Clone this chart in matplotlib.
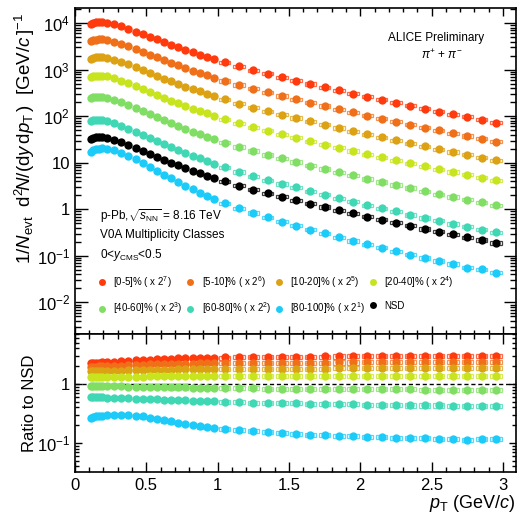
import numpy as np
import matplotlib
matplotlib.use("Agg")
import matplotlib.pyplot as plt
from matplotlib.lines import Line2D
from matplotlib.ticker import LogLocator, FuncFormatter, MultipleLocator, NullFormatter

plt.rcParams['font.family'] = ['Liberation Sans', 'DejaVu Sans']
plt.rcParams['mathtext.fontset'] = 'custom'
plt.rcParams['mathtext.rm'] = 'Liberation Sans'
plt.rcParams['mathtext.it'] = 'Liberation Sans:italic'
plt.rcParams['mathtext.bf'] = 'Liberation Sans:bold'

# pT bin centres and widths (GeV/c)
pt = [0.11, 0.13, 0.15, 0.17, 0.19,
      0.225, 0.275, 0.325, 0.375, 0.425, 0.475, 0.525, 0.575, 0.625, 0.675,
      0.725, 0.775, 0.825, 0.875, 0.925, 0.975,
      1.05, 1.15, 1.25, 1.35, 1.45, 1.55, 1.65, 1.75, 1.85, 1.95,
      2.05, 2.15, 2.25, 2.35, 2.45, 2.55, 2.65, 2.75, 2.85, 2.95]
pt_width = [0.02] * 5 + [0.05] * 16 + [0.1] * 20

# NSD spectrum
nsd = [33.0, 34.5, 35.2, 35.3, 35.1,
       33.9, 30.9, 27.4, 23.8, 20.6, 17.8, 15.3, 13.3, 11.5, 10.0, 8.73, 7.66, 6.73, 5.94, 5.27, 4.70,
       3.98, 3.24, 2.66, 2.21, 1.86, 1.57, 1.32, 1.12, 0.955, 0.813,
       0.692, 0.596, 0.513, 0.442, 0.380, 0.331, 0.288, 0.251, 0.219, 0.190]

# ratio of each multiplicity class to NSD
ratio_0_5 = [2.28, 2.28, 2.29, 2.30, 2.31,
             2.33, 2.37, 2.41, 2.45, 2.49, 2.53, 2.57, 2.60, 2.63, 2.66, 2.69, 2.71, 2.73, 2.75, 2.77, 2.78,
             2.80, 2.83, 2.85, 2.87, 2.88, 2.89, 2.90, 2.91, 2.92, 2.93,
             2.94, 2.95, 2.95, 2.96, 2.98, 2.97, 2.99, 3.02, 2.99, 2.98]
ratio_5_10 = [1.95, 1.95, 1.96, 1.97, 1.98,
              1.99, 2.02, 2.04, 2.07, 2.09, 2.11, 2.13, 2.15, 2.16, 2.18, 2.19, 2.20, 2.21, 2.22, 2.23, 2.24,
              2.25, 2.26, 2.27, 2.28, 2.29, 2.29, 2.30, 2.30, 2.31, 2.31,
              2.32, 2.32, 2.33, 2.33, 2.33, 2.34, 2.34, 2.35, 2.34, 2.34]
ratio_10_20 = [1.62, 1.62, 1.63, 1.63, 1.64,
               1.65, 1.66, 1.68, 1.69, 1.70, 1.71, 1.72, 1.73, 1.74, 1.75, 1.76, 1.76, 1.77, 1.78, 1.78, 1.79,
               1.79, 1.80, 1.80, 1.81, 1.81, 1.82, 1.82, 1.82, 1.83, 1.83,
               1.83, 1.83, 1.84, 1.84, 1.84, 1.84, 1.85, 1.85, 1.84, 1.84]
ratio_20_40 = [1.30, 1.30, 1.30, 1.30, 1.31,
               1.31, 1.32, 1.32, 1.33, 1.33, 1.33, 1.34, 1.34, 1.34, 1.35, 1.35, 1.35, 1.35, 1.36, 1.36, 1.36,
               1.36, 1.36, 1.36, 1.37, 1.37, 1.37, 1.37, 1.37, 1.37, 1.37,
               1.37, 1.37, 1.37, 1.37, 1.38, 1.37, 1.37, 1.38, 1.37, 1.37]
ratio_40_60 = [0.93, 0.93, 0.93, 0.92, 0.92,
               0.92, 0.91, 0.91, 0.90, 0.90, 0.89, 0.89, 0.88, 0.88, 0.87, 0.87, 0.87, 0.86, 0.86, 0.85, 0.85,
               0.85, 0.84, 0.84, 0.83, 0.83, 0.83, 0.82, 0.82, 0.82, 0.82,
               0.81, 0.81, 0.81, 0.81, 0.80, 0.80, 0.80, 0.80, 0.80, 0.80]
ratio_60_80 = [0.59, 0.59, 0.59, 0.59, 0.59,
               0.58, 0.58, 0.57, 0.57, 0.56, 0.56, 0.55, 0.55, 0.54, 0.54, 0.53, 0.53, 0.52, 0.52, 0.51, 0.51,
               0.50, 0.49, 0.48, 0.48, 0.47, 0.47, 0.46, 0.46, 0.45, 0.45,
               0.44, 0.44, 0.44, 0.43, 0.43, 0.43, 0.42, 0.42, 0.42, 0.42]
ratio_80_100 = [0.26, 0.27, 0.28, 0.285, 0.29,
                0.295, 0.30, 0.30, 0.295, 0.29, 0.28, 0.26, 0.25, 0.24, 0.23, 0.22, 0.21, 0.20, 0.19, 0.185, 0.178,
                0.170, 0.163, 0.157, 0.151, 0.146, 0.142, 0.138, 0.135, 0.132, 0.129,
                0.127, 0.125, 0.123, 0.121, 0.119, 0.118, 0.116, 0.112, 0.117, 0.115]

classes = ['[0-5]%', '[5-10]%', '[10-20]%', '[20-40]%', '[40-60]%', '[60-80]%', '[80-100]%']
scale_pow = [7, 6, 5, 4, 3, 2, 1]
ratios = [ratio_0_5, ratio_5_10, ratio_10_20, ratio_20_40, ratio_40_60, ratio_60_80, ratio_80_100]
colors = ['#ff3a0c', '#f0701a', '#dca214', '#c8e41e', '#80de64', '#40d8b4', '#1ccbf8']

sys_rel = 0.08

pt = np.array(pt)
pt_width = np.array(pt_width)
nsd = np.array(nsd)

fig = plt.figure(figsize=(5.2, 5.16), dpi=100)
ax1 = fig.add_axes([0.144, 0.3527, 0.848, 0.6318])
ax2 = fig.add_axes([0.144, 0.0853, 0.848, 0.2674], sharex=ax1)


def draw_points(ax, y, color, zorder):
    ax.bar(pt, 2 * sys_rel * y, width=0.8 * pt_width, bottom=y * (1 - sys_rel),
           fill=False, edgecolor=color, linewidth=0.9, alpha=0.75, zorder=zorder)
    ax.plot(pt, y, 'o', color=color, ms=6, mec='none', zorder=zorder + 0.5)


handles = []
for i, (name, p, r, c) in enumerate(zip(classes, scale_pow, ratios, colors)):
    spec = nsd * np.array(r) * 2 ** p
    draw_points(ax1, spec, c, 3 + i)
    draw_points(ax2, np.array(r), c, 3 + i)
    handles.append(Line2D([], [], ls='none', marker='o', ms=5, mec='none', color=c,
                          label=name + r' ( x 2$^{%d}$)' % p))
draw_points(ax1, nsd, 'black', 12)
handles.append(Line2D([], [], ls='none', marker='o', ms=5, mec='none', color='black', label='NSD'))

ax2.axhline(1, color='black', ls=(0, (3, 2)), lw=1.0, zorder=2)


def log_fmt(v, pos):
    e = int(round(np.log10(v)))
    if e == 0:
        return '1'
    if e == 1:
        return '10'
    return r'$10^{%d}$' % e


for ax in (ax1, ax2):
    ax.set_yscale('log')
    ax.set_xlim(0, 3.09)
    ax.xaxis.set_major_locator(MultipleLocator(0.5))
    ax.xaxis.set_minor_locator(MultipleLocator(0.1))
    ax.xaxis.set_major_formatter(FuncFormatter(lambda v, pos: '%g' % v))
    ax.yaxis.set_major_locator(LogLocator(base=10, numticks=20))
    ax.yaxis.set_minor_locator(LogLocator(base=10, subs=np.arange(2, 10), numticks=20))
    ax.yaxis.set_major_formatter(FuncFormatter(log_fmt))
    ax.yaxis.set_minor_formatter(NullFormatter())
    ax.tick_params(which='both', direction='in', top=True, right=True, labelsize=12, width=1)
    ax.tick_params(which='minor', labelleft=False, labelbottom=False)
    for s in ax.spines.values():
        s.set_linewidth(1.2)

ax1.set_ylim(2.1e-3, 2.1e4)
ax2.set_ylim(0.032, 7)
ax1.tick_params(axis='x', labelbottom=False)
ax1.tick_params(axis='x', which='major', length=6)
ax1.tick_params(axis='x', which='minor', length=3)
ax1.tick_params(axis='y', which='major', length=9)
ax1.tick_params(axis='y', which='minor', length=4.5)
ax2.tick_params(axis='x', which='major', length=7, pad=4)
ax2.tick_params(axis='x', which='minor', length=3.5)
ax2.tick_params(axis='y', which='major', length=5)
ax2.tick_params(axis='y', which='minor', length=3)

ax1.set_ylabel(r'$1/N_{\rm evt}\ \ {\rm d}^{2}\!N/({\rm d}y\,{\rm d}p_{\rm T}\,)\ \ [{\rm GeV}/c\,]^{-1}$',
               fontsize=13.5, loc='top')
ax1.yaxis.set_label_coords(-0.085, 0.985)
ax2.set_ylabel('Ratio to NSD', fontsize=12)
ax2.yaxis.set_label_coords(-0.085, 0.5)
ax2.set_xlabel(r'$p_{\rm T}$ (GeV/$c$)', fontsize=13, loc='right', labelpad=0)

ax1.text(0.819, 0.908, 'ALICE Preliminary', transform=ax1.transAxes, ha='center', va='center', fontsize=8.5)
ax1.text(0.832, 0.856, r'$\pi^{+}$ + $\pi^{-}$', transform=ax1.transAxes, ha='center', va='center', fontsize=8.5)
ax1.text(0.057, 0.362, r'p-Pb,$\sqrt{s_{\rm NN}}$ = 8.16 TeV', transform=ax1.transAxes,
         ha='left', va='center', fontsize=8.5)
ax1.text(0.057, 0.304, 'V0A Multiplicity Classes', transform=ax1.transAxes,
         ha='left', va='center', fontsize=8.5)
ax1.text(0.057, 0.242, r'0<$y_{\rm CMS}$<0.5', transform=ax1.transAxes,
         ha='left', va='center', fontsize=8.5)

order = [0, 4, 1, 5, 2, 6, 3, 7]
ax1.legend([handles[k] for k in order], [handles[k].get_label() for k in order],
           ncol=4, loc='upper left', bbox_to_anchor=(0.05, 0.184), frameon=False,
           fontsize=7, handlelength=1.0, handletextpad=0.7, columnspacing=0.25,
           labelspacing=1.1, borderpad=0, borderaxespad=0)

fig.savefig('out.png', dpi=100)
